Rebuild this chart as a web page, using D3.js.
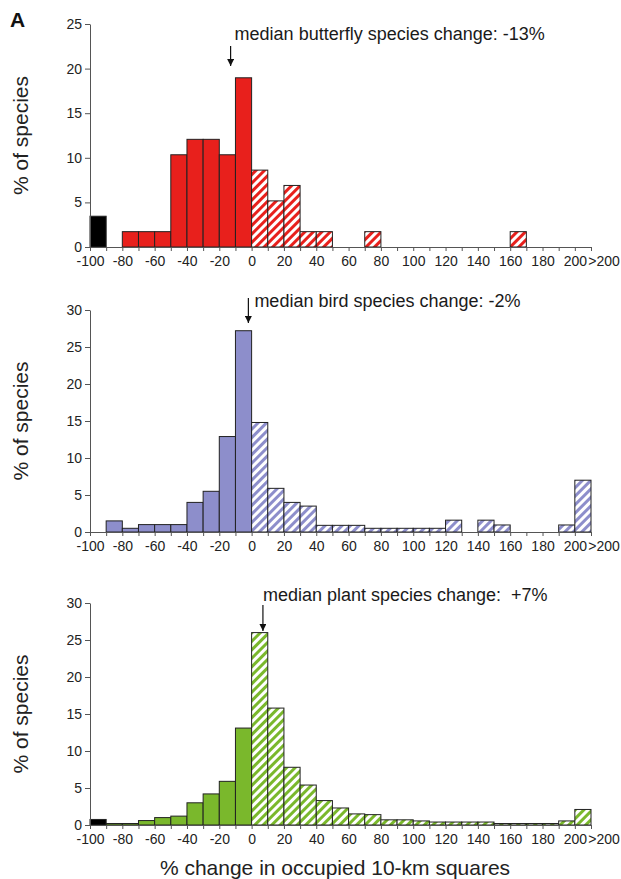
<!DOCTYPE html>
<html>
<head>
<meta charset="utf-8">
<script src="https://cdn.jsdelivr.net/npm/d3@7"></script>
<style>
  body { margin: 0; background: #fff; }
  svg { display: block; font-family: "Liberation Sans", Arial, sans-serif; }
</style>
</head>
<body>
<div id="wrapper"></div>
<script>
// bin starts (% change), 10-wide bins; last bin is ">200"
const binStarts = [-100, -90, -80, -70, -60, -50, -40, -30, -20, -10,
  0, 10, 20, 30, 40, 50, 60, 70, 80, 90, 100, 110, 120, 130, 140, 150,
  160, 170, 180, 190, 200]

// % of species per bin
const butterfly = [3.45, 0, 1.72, 1.72, 1.72, 10.34, 12.07, 12.07, 10.34, 18.97,
  8.62, 5.17, 6.90, 1.72, 1.72, 0, 0, 1.72, 0, 0, 0, 0, 0, 0, 0, 0,
  1.72, 0, 0, 0, 0]
const bird = [0, 1.5, 0.5, 1.0, 1.0, 1.0, 4.0, 5.5, 12.9, 27.2,
  14.8, 5.9, 4.0, 3.5, 0.9, 0.9, 0.9, 0.5, 0.5, 0.5, 0.5, 0.5, 1.6, 0, 1.6, 0.95,
  0, 0, 0, 0.95, 7.0]
const plant = [0.75, 0.2, 0.2, 0.6, 1.0, 1.2, 3.0, 4.2, 5.9, 13.1,
  26.0, 15.8, 7.8, 5.4, 3.3, 2.3, 1.5, 1.4, 0.7, 0.7, 0.55, 0.4, 0.4, 0.4, 0.4, 0.2,
  0.2, 0.2, 0.2, 0.55, 2.1]

const xTickValues = [-100, -80, -60, -40, -20, 0, 20, 40, 60, 80, 100, 120, 140, 160, 180, 200]
const xTickLabels = ["-100", "-80", "-60", "-40", "-20", "0", "20", "40", "60", "80",
  "100", "120", "140", "160", "180", "200"]
const lastLabel = ">200"

const medians = [-13, -2, 7]
const medianLabels = ["median butterfly species change: -13%",
  "median bird species change: -2%",
  "median plant species change:  +7%"]
const yMaxes = [25, 30, 30]
const yTickSets = [[0, 5, 10, 15, 20, 25], [0, 5, 10, 15, 20, 25, 30], [0, 5, 10, 15, 20, 25, 30]]

const width = 621
const height = 879

const series = [butterfly, bird, plant]
const colors = ["#e8201c", "#8d8ecb", "#7ab82c"]
// pixel layout of each panel: top / bottom of the y range, annotation placement
const layout = [
  { top: 24, bottom: 247, textY: 40, textDx: 4, arrowY1: 46, arrowY2: 66 },
  { top: 310, bottom: 532, textY: 307, textDx: 6, arrowY1: 298, arrowY2: 323 },
  { top: 603, bottom: 825, textY: 601, textDx: 0, arrowY1: 605, arrowY2: 631 },
]

const svg = d3.select("#wrapper")
  .append("svg")
  .attr("width", width)
  .attr("height", height)

const defs = svg.append("defs")
defs.append("marker")
  .attr("id", "arrow")
  .attr("viewBox", "0 0 10 10")
  .attr("refX", 10)
  .attr("refY", 5)
  .attr("markerWidth", 7)
  .attr("markerHeight", 7)
  .attr("markerUnits", "userSpaceOnUse")
  .attr("orient", "auto")
  .append("path")
  .attr("d", "M0,0 L10,5 L0,10 Z")
  .attr("fill", "#111")

colors.forEach((c, i) => {
  const p = defs.append("pattern")
    .attr("id", "hatch" + i)
    .attr("patternUnits", "userSpaceOnUse")
    .attr("width", 6)
    .attr("height", 6)
    .attr("patternTransform", "rotate(45)")
  p.append("rect").attr("width", 6).attr("height", 6).attr("fill", "#fff")
  p.append("rect").attr("width", 3).attr("height", 6).attr("fill", c)
})

const xScale = d3.scaleLinear()
  .domain([-100, 210])
  .range([90, 591])

svg.append("text")
  .attr("x", 10)
  .attr("y", 27)
  .attr("font-size", 21)
  .attr("font-weight", "bold")
  .attr("fill", "#111")
  .text("A")

series.forEach((values, i) => {
  const L = layout[i]
  const yScale = d3.scaleLinear()
    .domain([0, yMaxes[i]])
    .range([L.bottom, L.top])

  const g = svg.append("g")

  // bars
  g.selectAll("rect.bar")
    .data(binStarts.map((b, j) => ({ start: b, value: values[j] })).filter(d => d.value > 0))
    .join("rect")
    .attr("class", "bar")
    .attr("x", d => xScale(d.start))
    .attr("width", d => xScale(d.start + 10) - xScale(d.start))
    .attr("y", d => yScale(d.value))
    .attr("height", d => yScale(0) - yScale(d.value))
    .attr("fill", d => d.start === -100 ? "#000" : d.start < 0 ? colors[i] : `url(#hatch${i})`)
    .attr("stroke", "#222")
    .attr("stroke-width", 1)

  // y axis
  const yAxis = g.append("g")
    .attr("transform", `translate(${xScale(-100)},0)`)
    .call(d3.axisLeft(yScale).tickValues(yTickSets[i]).tickSize(5).tickSizeOuter(0).tickPadding(3))
  yAxis.select(".domain").attr("stroke", "#555")
  yAxis.selectAll(".tick line").attr("stroke", "#555")
  yAxis.selectAll(".tick text").attr("font-size", 14).attr("fill", "#222")
    .attr("font-family", "'Liberation Sans', Arial, sans-serif")

  // x axis: tick marks at every bin edge
  const edges = binStarts.concat([210])
  const xMarks = g.append("g")
    .attr("transform", `translate(0,${yScale(0)})`)
    .call(d3.axisBottom(xScale).tickValues(edges).tickSize(4).tickSizeOuter(0).tickFormat(""))
  xMarks.select(".domain").attr("stroke", "#555")
  xMarks.selectAll(".tick line").attr("stroke", "#555")

  const xLabels = g.append("g")
    .attr("transform", `translate(0,${yScale(0)})`)
    .call(d3.axisBottom(xScale).tickValues(xTickValues).tickSize(0).tickPadding(9)
      .tickFormat((d, k) => xTickLabels[k]))
  xLabels.select(".domain").remove()
  xLabels.selectAll(".tick text").attr("font-size", 14).attr("fill", "#222")
    .attr("font-family", "'Liberation Sans', Arial, sans-serif")

  g.append("text")
    .attr("x", xScale(210) + 13)
    .attr("y", yScale(0) + 9)
    .attr("dy", "0.71em")
    .attr("text-anchor", "middle")
    .attr("font-size", 14)
    .attr("fill", "#222")
    .text(lastLabel)

  // y title
  g.append("text")
    .attr("transform", `translate(28,${(L.top + L.bottom) / 2}) rotate(-90)`)
    .attr("text-anchor", "middle")
    .attr("font-size", 21)
    .attr("fill", "#222")
    .text("% of species")

  // median annotation
  const mx = xScale(medians[i])
  g.append("line")
    .attr("x1", mx).attr("x2", mx)
    .attr("y1", L.arrowY1).attr("y2", L.arrowY2)
    .attr("stroke", "#111")
    .attr("stroke-width", 1.2)
    .attr("marker-end", "url(#arrow)")
  g.append("text")
    .attr("x", mx + L.textDx)
    .attr("y", L.textY)
    .attr("font-size", 18)
    .attr("fill", "#1a1a1a")
    .style("white-space", "pre")
    .text(medianLabels[i])
})

svg.append("text")
  .attr("x", 335)
  .attr("y", 875)
  .attr("text-anchor", "middle")
  .attr("font-size", 21)
  .attr("fill", "#222")
  .text("% change in occupied 10-km squares")
</script>
</body>
</html>
